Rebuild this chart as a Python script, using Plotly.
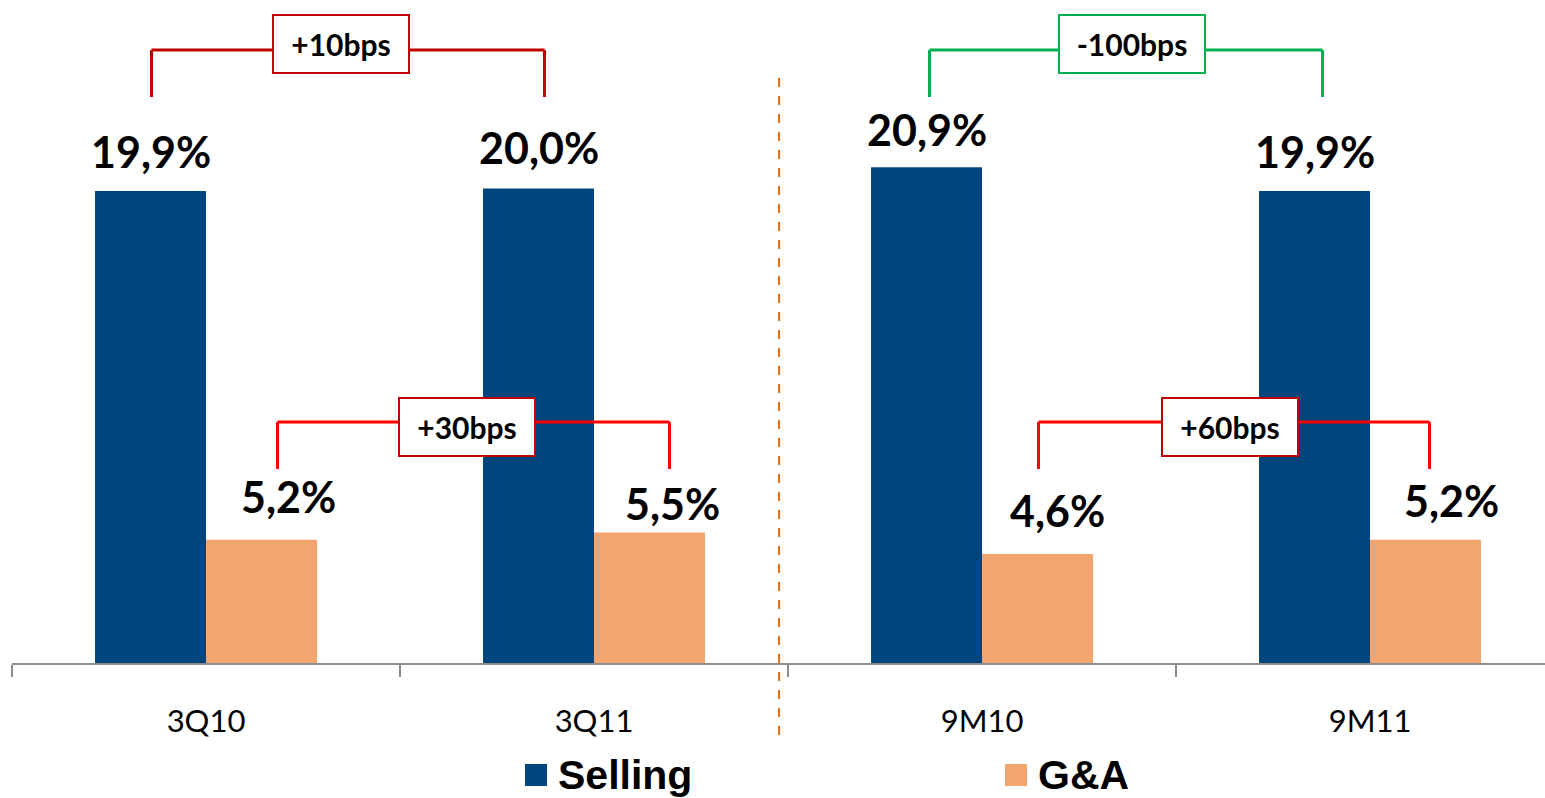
import plotly.graph_objects as go

# ---------------- data ----------------
categories = ["3Q10", "3Q11", "9M10", "9M11"]
series_names = ["Selling", "G&A"]
selling = [19.9, 20.0, 20.9, 19.9]
ga = [5.2, 5.5, 4.6, 5.2]
selling_labels = ["19,9%", "20,0%", "20,9%", "19,9%"]
ga_labels = ["5,2%", "5,5%", "4,6%", "5,2%"]
change_labels = ["+10bps", "+30bps", "-100bps", "+60bps"]

# ---------------- styling / layout constants ----------------
W, H = 1545, 798
ML, MR, MT, MB = 12, 0, 0, 135
PLOT_W = W - ML - MR
PLOT_H = H - MT - MB
Y_MAX = 27.95
X_RANGE = [-0.5, 3.451]
BARGAP = 0.428
HALF = (1 - BARGAP) / 4          # offset of each bar centre from category centre
PX_PER_CAT = PLOT_W / (X_RANGE[1] - X_RANGE[0])

C_SELL = "#00457C"
C_GA = "#F3A56F"
C_RED_DARK = "#C00000"
C_RED = "#FF0000"
C_GREEN = "#00B050"
C_ORANGE = "#E46C0A"
C_AXIS = "#8C8C8C"

LABEL_FONT = dict(family="Lato, 'Open Sans', sans-serif", size=43, color="black")
BOX_FONT = dict(family="Lato, 'Open Sans', sans-serif", size=30, color="black")

# label placement offsets (pixels)
SELL_LABEL_DY = [39, 41, 38, 39]
GA_LABEL_DY = [43, 29, 43, 39]
GA_LABEL_DX = [27, 23, 20, 26]


def px2paper_x(px):
    return (px - ML) / PLOT_W


def px2paper_y(py):
    return (H - MB - py) / PLOT_H


fig = go.Figure()
fig.add_trace(go.Bar(x=categories, y=selling, name=series_names[0],
                     marker=dict(color=C_SELL, line=dict(width=0)), showlegend=False))
fig.add_trace(go.Bar(x=categories, y=ga, name=series_names[1],
                     marker=dict(color=C_GA, line=dict(width=0)), showlegend=False))

annotations = []
shapes = []

# value labels above bars
for i, (v, t) in enumerate(zip(selling, selling_labels)):
    annotations.append(dict(x=i - HALF, y=v, xref="x", yref="y", text=f"<b>{t}</b>",
                            showarrow=False, yanchor="middle", yshift=SELL_LABEL_DY[i],
                            font=LABEL_FONT))
for i, (v, t) in enumerate(zip(ga, ga_labels)):
    annotations.append(dict(x=i + HALF, y=v, xref="x", yref="y", text=f"<b>{t}</b>",
                            showarrow=False, yanchor="middle", yshift=GA_LABEL_DY[i],
                            xshift=GA_LABEL_DX[i], font=LABEL_FONT))

# brackets: (from, to, series side, label idx, line colour, box colour, level, bottom,
#            left shift px, right shift px, box dx px, box dy px, box width)
brackets = [
    (0, 1, -1, 0, C_RED_DARK, C_RED_DARK, 25.84, 23.86, 1, 6, -7, 6, 132),
    (0, 1, +1, 1, C_RED, C_RED_DARK, 10.16, 8.18, 16, 20, -6, -5, 132),
    (2, 3, -1, 2, C_GREEN, C_GREEN, 25.84, 23.86, 3, 8, 6, 6, 142),
    (2, 3, +1, 3, C_RED, C_RED_DARK, 10.16, 8.18, 1, 4, -4, -5, 132),
]
for a, b, sgn, li, lc, bc, lvl, bot, sa, sb, bdx, bdy, bw in brackets:
    xa = a + sgn * HALF + sa / PX_PER_CAT
    xb = b + sgn * HALF + sb / PX_PER_CAT
    line = dict(color=lc, width=3)
    shapes.append(dict(type="line", xref="x", yref="y", x0=xa, x1=xa, y0=bot, y1=lvl, line=line))
    shapes.append(dict(type="line", xref="x", yref="y", x0=xb, x1=xb, y0=bot, y1=lvl, line=line))
    shapes.append(dict(type="line", xref="x", yref="y", x0=xa, x1=xb, y0=lvl, y1=lvl, line=line))
    annotations.append(dict(x=(xa + xb) / 2, y=lvl, xref="x", yref="y",
                            text=f"<b>{change_labels[li]}</b>", showarrow=False,
                            xanchor="center", yanchor="middle", xshift=bdx, yshift=bdy,
                            width=bw, height=54, bgcolor="white", bordercolor=bc,
                            borderwidth=2, borderpad=1, font=BOX_FONT))

# divider between quarter and nine-month groups
shapes.append(dict(type="line", xref="x", yref="paper", x0=1.477, x1=1.477,
                   y0=px2paper_y(735), y1=px2paper_y(75),
                   line=dict(color=C_ORANGE, width=2, dash="dash")))

# custom legend
legend_items = [(series_names[0], C_SELL, 525), (series_names[1], C_GA, 1005)]
for name, col, px in legend_items:
    shapes.append(dict(type="rect", xref="paper", yref="paper",
                       x0=px2paper_x(px), x1=px2paper_x(px + 22),
                       y0=px2paper_y(786), y1=px2paper_y(764),
                       fillcolor=col, line=dict(width=0)))
    annotations.append(dict(x=px2paper_x(px + 31), y=px2paper_y(775), xref="paper", yref="paper",
                            text=f"<b>{name}</b>", showarrow=False, xanchor="left",
                            yanchor="middle", height=44, valign="middle",
                            font=dict(family="'Liberation Sans', Arial, sans-serif",
                                      size=41, color="black")))

fig.update_layout(
    width=W, height=H,
    margin=dict(l=ML, r=MR, t=MT, b=MB, pad=0),
    paper_bgcolor="white", plot_bgcolor="white",
    barmode="group", bargap=BARGAP, bargroupgap=0,
    showlegend=False,
    annotations=annotations, shapes=shapes,
    xaxis=dict(range=X_RANGE, showgrid=False, zeroline=False,
               showline=True, linecolor=C_AXIS, linewidth=2,
               ticks="outside", tickson="boundaries", ticklen=12, tickwidth=2,
               tickcolor=C_AXIS, ticklabelstandoff=30,
               tickfont=dict(family="Lato, 'Open Sans', sans-serif", size=31, color="black")),
    yaxis=dict(range=[0, Y_MAX], visible=False, showgrid=False, zeroline=False),
)

fig.write_html("out.html")
